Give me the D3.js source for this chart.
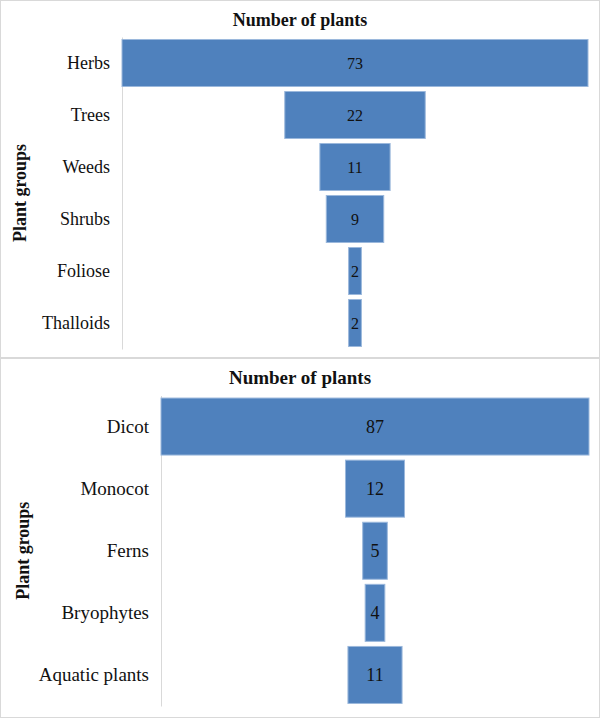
<!DOCTYPE html>
<html>
<head>
<meta charset="utf-8">
<script src="https://cdn.jsdelivr.net/npm/d3@7"></script>
<style>
  body { margin: 0; background: #fff; }
  text { font-family: "Liberation Serif", "Times New Roman", serif; fill: #111; }
</style>
</head>
<body>
<script>
// plant group funnels (two stacked panels)
var groupsTop = ["Herbs", "Trees", "Weeds", "Shrubs", "Foliose", "Thalloids"];
var countsTop = [73, 22, 11, 9, 2, 2];

var groupsBottom = ["Dicot", "Monocot", "Ferns", "Bryophytes", "Aquatic plants"];
var countsBottom = [87, 12, 5, 4, 11];

var chartTitle = "Number of plants";
var axisTitle = "Plant groups";
var serif = "Liberation Serif, serif";

var svg = d3.select("body").append("svg").attr("width", 602).attr("height", 719);

function drawFunnel(groups, counts, p) {
    var g = svg.append("g");

    // panel frame
    g.append("rect")
        .attr("x", 0.5).attr("y", p.top + 0.5)
        .attr("width", 599).attr("height", p.height)
        .style("fill", "#fff").style("stroke", "#d9d9d9");

    var x = d3.scaleLinear().domain([0, d3.max(counts)]).range([0, p.right - p.left]);
    var y = d3.scaleBand().domain(groups).range([p.y0, p.y1])
        .paddingInner(p.pad).paddingOuter(p.pad / 2);
    var mid = (p.left + p.right) / 2;

    // title
    g.append("text")
        .attr("x", 300).attr("y", p.titleY)
        .attr("text-anchor", "middle")
        .style("font-family", serif)
        .style("font-size", p.titleSize + "px").style("font-weight", "bold")
        .text(chartTitle);

    // category axis
    var ax = g.append("g")
        .attr("transform", "translate(" + p.left + ",0)")
        .call(d3.axisLeft(y).tickSize(0).tickSizeOuter(0).tickPadding(12));
    ax.attr("font-family", serif);
    ax.select(".domain").style("stroke", "#d9d9d9");
    ax.selectAll("text")
        .style("font-size", p.labelSize + "px")
        .style("font-family", serif)
        .style("fill", "#111");

    // bars centred on the middle of the plot
    g.selectAll("rect.bar").data(counts).enter().append("rect")
        .attr("class", "bar")
        .attr("x", function(d) { return mid - x(d) / 2; })
        .attr("y", function(d, i) { return y(groups[i]); })
        .attr("width", function(d) { return x(d); })
        .attr("height", y.bandwidth())
        .style("fill", "#4f81bd")
        .style("stroke", "#9bb8dc")
        .style("stroke-width", 1);

    g.selectAll("text.val").data(counts).enter().append("text")
        .attr("class", "val")
        .attr("x", mid)
        .attr("y", function(d, i) { return y(groups[i]) + y.bandwidth() / 2; })
        .attr("dy", "0.35em")
        .attr("text-anchor", "middle")
        .style("font-family", serif)
        .style("font-size", p.valueSize + "px")
        .text(function(d) { return d; });

    // rotated axis title
    var cy = (p.y0 + p.y1) / 2;
    g.append("text")
        .attr("transform", "translate(" + p.axisX + "," + cy + ") rotate(-90)")
        .attr("text-anchor", "middle")
        .style("font-family", serif)
        .style("font-size", "18px").style("font-weight", "bold")
        .text(axisTitle);
}

drawFunnel(groupsTop, countsTop, {
    top: 0, height: 357, left: 122, right: 588,
    y0: 37, y1: 349, pad: 0.096,
    titleY: 26, titleSize: 18, labelSize: 18, valueSize: 16, axisX: 26
});

drawFunnel(groupsBottom, countsBottom, {
    top: 358, height: 359, left: 161, right: 589,
    y0: 395.5, y1: 706, pad: 0.082,
    titleY: 384, titleSize: 19, labelSize: 19, valueSize: 18, axisX: 29
});
</script>
</body>
</html>
